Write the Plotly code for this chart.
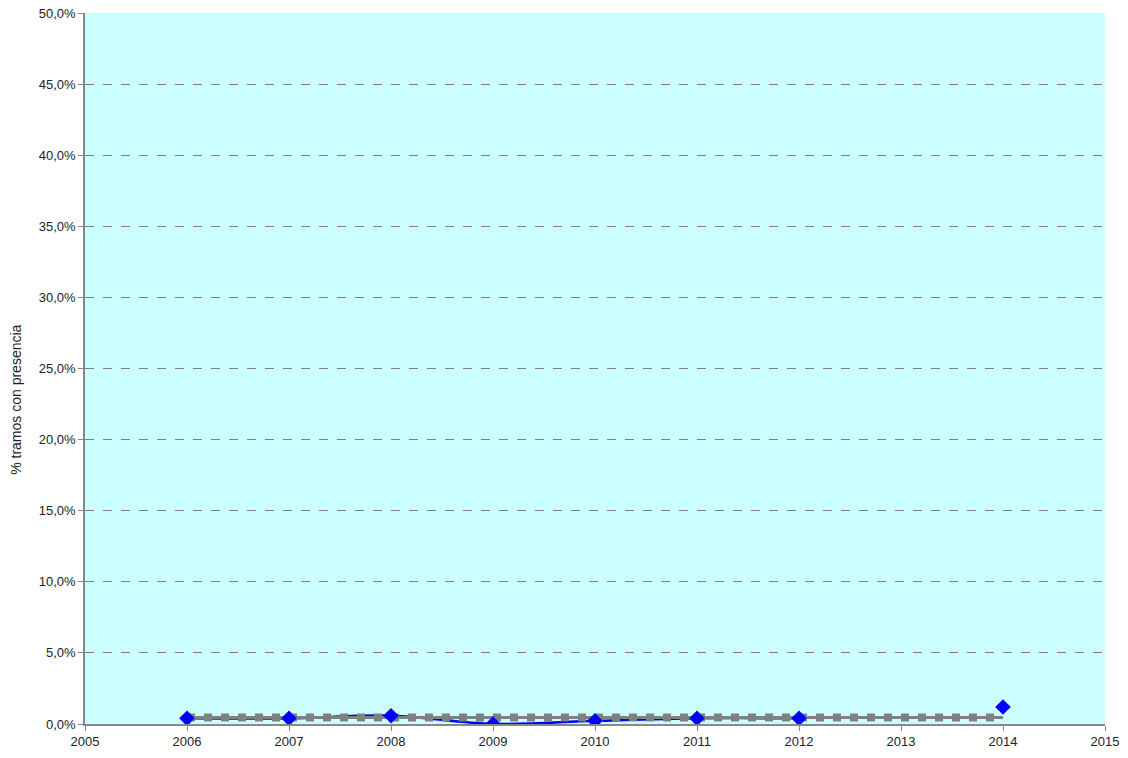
import plotly.graph_objects as go

YEARS = [2006, 2007, 2008, 2009, 2010, 2011, 2012, 2013, 2014]
PRESENCIA = [0.004, 0.004, 0.0058, 0.0, 0.0022, 0.004, 0.004, None, 0.012]

MEDIA_YEARS = [2006, 2014]
MEDIA = [0.0045, 0.0045]

fig = go.Figure()

# linea azul por debajo de la media, rombos por encima (como en excel)
fig.add_trace(go.Scatter(x=YEARS, y=PRESENCIA, mode="lines",
                         line=dict(color="#0000FF", width=2.5, shape="spline"),
                         connectgaps=False, showlegend=False, hoverinfo="skip"))

# media: linea gris fina con cuadrados
fig.add_trace(go.Scatter(x=MEDIA_YEARS, y=MEDIA, mode="lines",
                         line=dict(color="#808080", width=3),
                         showlegend=False, hoverinfo="skip"))
fig.add_trace(go.Scatter(x=MEDIA_YEARS, y=MEDIA, mode="lines",
                         line=dict(color="#808080", width=8, dash="8px,9px"),
                         showlegend=False))

fig.add_trace(go.Scatter(x=YEARS, y=PRESENCIA, mode="markers",
                         marker=dict(symbol="diamond", size=12, color="#0000FF"),
                         showlegend=False))

fig.update_layout(
    width=1128, height=758,
    margin=dict(l=85, r=23, t=13, b=34, autoexpand=False),
    paper_bgcolor="white", plot_bgcolor="#CCFFFF",
    separators=",.",
    font=dict(family="Liberation Sans, Arial", size=13, color="#222222"),
    xaxis=dict(range=[2005, 2015], tickmode="linear", tick0=2005, dtick=1,
               showgrid=False, zeroline=False, showline=True, linecolor="#888888",
               linewidth=1.5, ticks="outside", ticklen=5, tickcolor="#888888",
               automargin=False, ticklabeloverflow="allow"),
    yaxis=dict(range=[0, 0.50001], tickmode="linear", tick0=0, dtick=0.05,
               tickformat=".1%", showgrid=True, gridcolor="#808080", griddash="dash",
               gridwidth=1, zeroline=False, showline=True, linecolor="#888888",
               linewidth=1.5, ticks="outside", ticklen=5, tickcolor="#888888",
               automargin=False, ticklabeloverflow="allow"),
)

# titulo del eje y, algo desplazado hacia abajo como en el original
fig.add_annotation(text="% tramos con presencia", textangle=-90,
                   xref="paper", yref="paper", x=-0.0676, y=0.456,
                   xanchor="center", yanchor="middle",
                   showarrow=False, font=dict(size=14))

fig.write_html("out.html", config={"displayModeBar": False},
               post_script="document.body.style.margin='0';")
